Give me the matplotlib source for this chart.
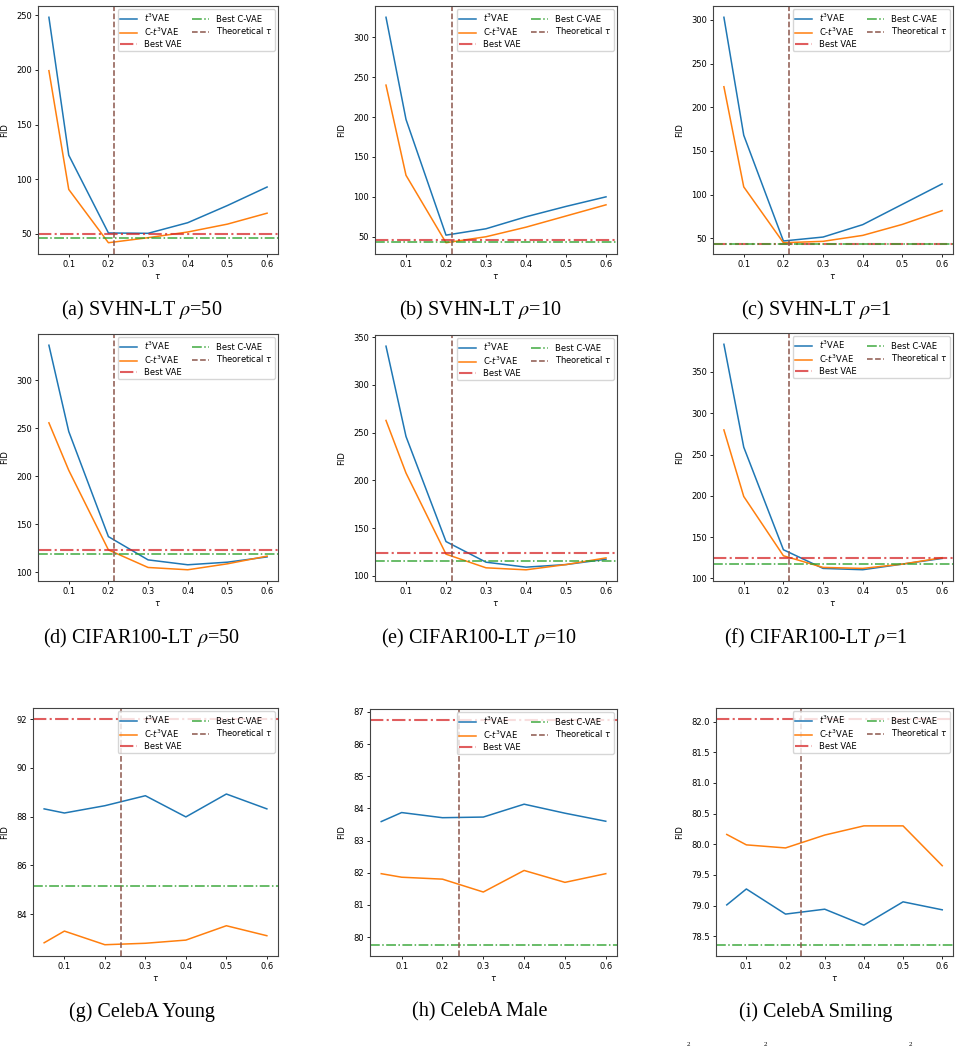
import matplotlib
matplotlib.use("Agg")
import matplotlib.pyplot as plt

tau = [0.05, 0.1, 0.2, 0.3, 0.4, 0.5, 0.6]

# t3VAE / C-t3VAE FID per panel
t3_a = [248, 122, 50.9, 50.6, 60.3, 76, 92.9]
ct3_a = [199.2, 90.7, 42, 46.6, 51.8, 59, 69]
t3_b = [325, 197, 52, 60, 75, 88, 100]
ct3_b = [240, 127, 42.5, 50, 62, 76, 90]
t3_c = [303, 168, 47, 51.5, 65.7, 89, 112.3]
ct3_c = [223.5, 108.9, 45, 46.6, 53.4, 66, 81.7]
t3_d = [336.6, 246.8, 137.3, 113.1, 108, 110.7, 116.2]
ct3_d = [255.8, 206.4, 123.5, 105.2, 102.8, 109, 117]
t3_e = [340.6, 246, 135.9, 114.3, 109.1, 111.8, 117.4]
ct3_e = [262.8, 207.7, 122.7, 108.4, 106.3, 111.8, 118.8]
t3_f = [383.5, 258.9, 134.7, 112.1, 110.5, 117.3, 124.2]
ct3_f = [279.8, 199.2, 127.4, 113.3, 112.1, 117.3, 125]
t3_g = [88.32, 88.15, 88.45, 88.86, 87.99, 88.93, 88.32]
ct3_g = [82.82, 83.30, 82.74, 82.80, 82.93, 83.52, 83.11]
t3_h = [83.59, 83.87, 83.71, 83.73, 84.13, 83.85, 83.60]
ct3_h = [81.97, 81.86, 81.80, 81.40, 82.07, 81.70, 81.97]
t3_i = [79.01, 79.27, 78.86, 78.94, 78.68, 79.06, 78.93]
ct3_i = [80.16, 79.99, 79.94, 80.15, 80.30, 80.30, 79.65]

best_vae = [50.0, 45.5, 43.8, 123.1, 124.1, 124.6, 92.0, 86.74, 82.04]
best_cvae = [46.6, 43.5, 43.6, 119.0, 115.3, 117.7, 85.17, 79.76, 78.36]
theoretical_tau = [0.215, 0.215, 0.215, 0.215, 0.215, 0.215, 0.24, 0.24, 0.24]

captions = ["(a) SVHN-LT $\\rho$=50", "(b) SVHN-LT $\\rho$=10", "(c) SVHN-LT $\\rho$=1",
            "(d) CIFAR100-LT $\\rho$=50", "(e) CIFAR100-LT $\\rho$=10", "(f) CIFAR100-LT $\\rho$=1",
            "(g) CelebA Young", "(h) CelebA Male", "(i) CelebA Smiling"]

t3_all = [t3_a, t3_b, t3_c, t3_d, t3_e, t3_f, t3_g, t3_h, t3_i]
ct3_all = [ct3_a, ct3_b, ct3_c, ct3_d, ct3_e, ct3_f, ct3_g, ct3_h, ct3_i]

W, H = 960, 1048
fig = plt.figure(figsize=(W / 100, H / 100), dpi=100)

rects = [(38, 6, 278, 254), (375, 6, 617, 254), (713, 6, 953, 254),
         (38, 334, 278, 581), (375, 335, 617, 581), (713, 333, 953, 581),
         (33, 708, 278, 956), (370, 709, 617, 956), (716, 708, 953, 956)]
cap_pos = [(142, 310), (480, 310), (816, 310),
           (142, 638), (479, 638), (816, 638),
           (142, 1012), (480, 1012), (816, 1012)]

fs = 6
for k in range(9):
    l, t, r, b = rects[k]
    ax = fig.add_axes([l / W, 1 - b / H, (r - l) / W, (b - t) / H])
    ax.plot(tau, t3_all[k], color='tab:blue', lw=1.1, label='$t^3$VAE')
    ax.plot(tau, ct3_all[k], color='tab:orange', lw=1.1, label='C-$t^3$VAE')
    ax.axhline(best_vae[k], color='tab:red', ls='-.', lw=1.5, alpha=0.75, label='Best VAE')
    ax.axhline(best_cvae[k], color='tab:green', ls='-.', lw=1.1, alpha=0.9, label='Best C-VAE')
    ax.axvline(theoretical_tau[k], color='tab:brown', ls='--', lw=1.1, label='Theoretical $\\tau$')
    ax.set_xlabel('$\\tau$', fontsize=fs, labelpad=2)
    ax.set_ylabel('FID', fontsize=fs, labelpad=5)
    ax.tick_params(labelsize=fs, length=2.5, width=0.6, pad=2)
    for s in ax.spines.values():
        s.set_linewidth(0.8)
        s.set_color('#444444')
    ax.legend(loc='upper right', ncol=2, fontsize=fs, framealpha=0.8,
              handlelength=2.1, borderpad=0.25, labelspacing=0.2, columnspacing=1.2,
              borderaxespad=0.4)
    cx, cy = cap_pos[k]
    fig.text(cx / W, 1 - cy / H, captions[k], ha='center', va='center',
             fontsize=14.5, family='Liberation Serif', math_fontfamily='stix')

# fragments of the following (cropped) caption line
for x in [688, 765, 910]:
    fig.text(x / W, 1 - 1047 / H, '2', ha='center', va='bottom', fontsize=5,
             family='Liberation Serif')

fig.savefig('out.png', dpi=100)
